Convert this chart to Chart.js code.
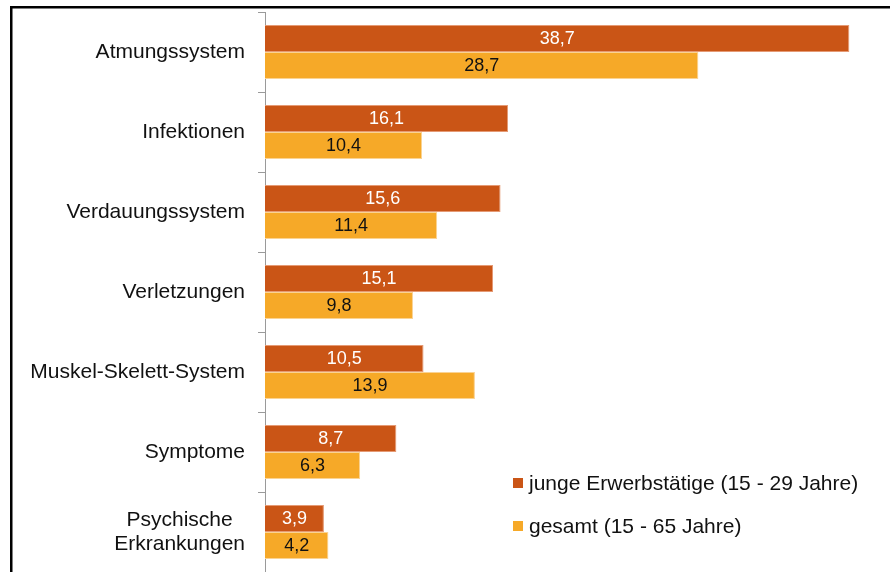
<!DOCTYPE html>
<html lang="de">
<head>
<meta charset="UTF-8">
<title>Arbeitsunfähigkeit nach Diagnosegruppen</title>
<script src="https://cdn.jsdelivr.net/npm/chart.js"></script>
<style>
    html, body {
        margin: 0;
        padding: 0;
        background: #ffffff;
        overflow: hidden;
    }
    #wrap {
        width: 890px;
        height: 572px;
        position: relative;
    }
</style>
</head>
<body>
<div id="wrap"><canvas id="chart" width="890" height="572"></canvas></div>
<script>
    const kategorien = ['Atmungssystem', 'Infektionen', 'Verdauungssystem', 'Verletzungen',
        'Muskel-Skelett-System', 'Symptome', ['Psychische', 'Erkrankungen']];
    const junge = [38.7, 16.1, 15.6, 15.1, 10.5, 8.7, 3.9];
    const gesamt = [28.7, 10.4, 11.4, 9.8, 13.9, 6.3, 4.2];
    const serienNamen = ['junge Erwerbstätige (15 - 29 Jahre)', 'gesamt (15 - 65 Jahre)'];

    const DUNKEL = '#CA5516';
    const HELL = '#F6A928';
    const SCHRIFT = '"Liberation Sans", Arial, sans-serif';

    // Rahmen oben/links
    const rahmen = {
        id: 'rahmen',
        beforeDraw(chart) {
            const c = chart.ctx;
            c.save();
            c.fillStyle = '#000';
            c.fillRect(10, 6, chart.width, 2.5);
            c.fillRect(10, 6, 2.5, chart.height);
            c.restore();
        }
    };

    // Kategorienamen links der Achse (mehrzeilige zentriert)
    const kategorieText = {
        id: 'kategorieText',
        afterDraw(chart) {
            const c = chart.ctx;
            const y = chart.scales.y;
            const xr = chart.chartArea.left - 20;
            c.save();
            c.font = '21px ' + SCHRIFT;
            c.fillStyle = '#111';
            c.textBaseline = 'middle';
            kategorien.forEach((lab, i) => {
                const yc = y.getPixelForValue(i);
                if (Array.isArray(lab)) {
                    const breit = Math.max(...lab.map(t => c.measureText(t).width));
                    c.textAlign = 'center';
                    const lh = 24;
                    lab.forEach((t, k) => {
                        c.fillText(t, xr - breit / 2, yc + (k - (lab.length - 1) / 2) * lh);
                    });
                } else {
                    c.textAlign = 'right';
                    c.fillText(lab, xr, yc);
                }
            });
            c.restore();
        }
    };

    // Werte in den Balken
    const werteText = {
        id: 'werteText',
        afterDatasetsDraw(chart) {
            const c = chart.ctx;
            c.save();
            c.font = '18px ' + SCHRIFT;
            c.textAlign = 'center';
            c.textBaseline = 'middle';
            chart.data.datasets.forEach((ds, d) => {
                const meta = chart.getDatasetMeta(d);
                c.fillStyle = d === 0 ? '#ffffff' : '#111111';
                meta.data.forEach((bar, i) => {
                    const p = bar.getProps(['x', 'y', 'base'], true);
                    const txt = ds.data[i].toFixed(1).replace('.', ',');
                    c.fillText(txt, (p.x + p.base) / 2, p.y + 1);
                });
            });
            c.restore();
        }
    };

    // Legende unten rechts im Diagramm
    const legende = {
        id: 'legende',
        afterDraw(chart) {
            const c = chart.ctx;
            const x = 513, y0 = 483, abstand = 43;
            c.save();
            c.font = '21px ' + SCHRIFT;
            c.textAlign = 'left';
            c.textBaseline = 'middle';
            chart.data.datasets.forEach((ds, d) => {
                const y = y0 + d * abstand;
                c.fillStyle = ds.backgroundColor;
                c.fillRect(x, y - 5, 10, 10);
                c.fillStyle = '#111';
                c.fillText(ds.label, x + 16, y + 1);
            });
            c.restore();
        }
    };

    new Chart(document.getElementById('chart'), {
        type: 'bar',
        data: {
            labels: kategorien,
            datasets: [{
                label: serienNamen[0],
                data: junge,
                backgroundColor: DUNKEL,
                borderColor: '#E59A74',
                borderWidth: 1
            }, {
                label: serienNamen[1],
                data: gesamt,
                backgroundColor: HELL,
                borderColor: '#FAD394',
                borderWidth: 1
            }]
        },
        options: {
            indexAxis: 'y',
            responsive: false,
            animation: false,
            events: [],
            categoryPercentage: 0.675,
            barPercentage: 1.0,
            layout: {
                padding: { left: 258, right: 21, top: 12, bottom: 0 }
            },
            plugins: {
                legend: { display: false },
                tooltip: { enabled: false }
            },
            scales: {
                x: {
                    display: false,
                    min: 0,
                    max: 40
                },
                y: {
                    ticks: { display: false },
                    grid: {
                        drawOnChartArea: false,
                        drawTicks: true,
                        tickLength: 7,
                        color: '#9a9a9a',
                        offset: true
                    },
                    border: { display: true, color: '#9a9a9a', width: 1 }
                }
            }
        },
        plugins: [rahmen, kategorieText, werteText, legende]
    });
</script>
</body>
</html>
